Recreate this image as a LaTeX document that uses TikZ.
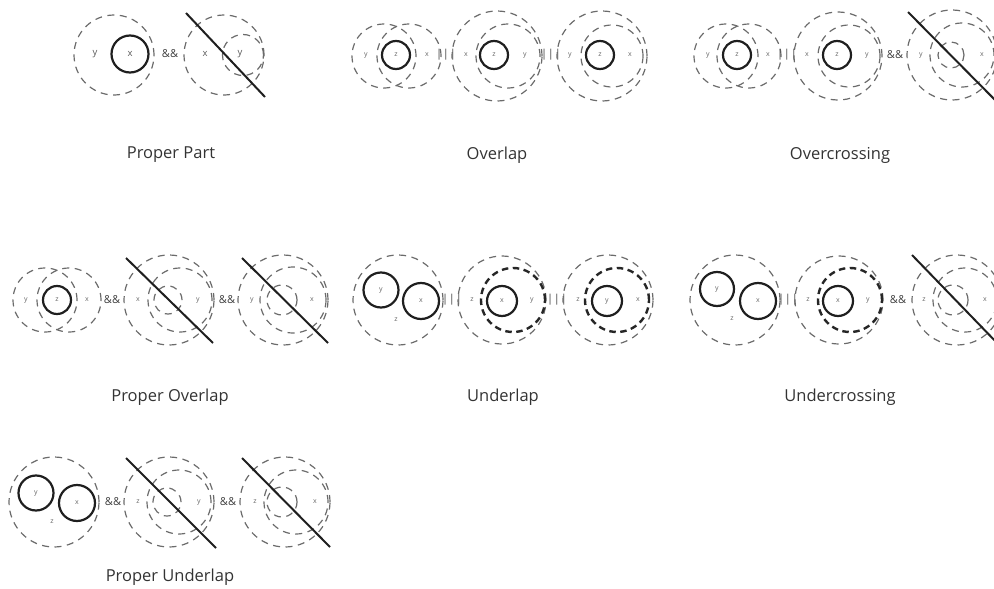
\documentclass[tikz,border=0pt]{standalone}
\usepackage{fontspec}
\setmainfont{Open Sans}

\begin{document}
\begin{tikzpicture}[x=1pt, y=-1pt,
  dcirc/.style={circle, inner sep=0pt, draw=black!58, line width=1.2pt, dash pattern=on 7pt off 5.5pt},
  tcirc/.style={circle, inner sep=0pt, draw=black!85, line width=2.4pt, dash pattern=on 6.5pt off 4.5pt},
  scirc/.style={circle, inner sep=0pt, draw=black!88, line width=2.2pt},
  lbl/.style={inner sep=0pt, text=black!60, font=\fontsize{7}{8}\selectfont},
  lblbig/.style={inner sep=0pt, text=black!65, font=\fontsize{9.5}{10}\selectfont},
  op/.style={inner sep=0pt, text=black!75, font=\fontsize{11}{12}\selectfont},
  ttl/.style={text=black!80, font=\fontsize{16.5}{19}\selectfont},
  slash/.style={line width=2pt, black!88}]
\clip (0,0) rectangle (994,589);

% Proper Part
\node[dcirc, minimum size=80pt] (PP1)  at (114,55) {};
\node[scirc, minimum size=37pt] (PP1x) at (130,54) {};
\node[lblbig] (PP1ly) at (95,54)  {y};
\node[lblbig] (PP1lx) at (130,54) {x};
\node[op]     (PPand) at (170,54) {\&\&};
\node[dcirc, minimum size=80pt] (PP2)  at (224,55) {};
\node[dcirc, minimum size=41pt] (PP2y) at (243,55) {};
\node[lblbig] (PP2lx) at (205,54) {x};
\node[lblbig] (PP2ly) at (240,54) {y};
\draw[slash] (186,13) -- (265,97);
\node[ttl] (PPt) at (171,155) {Proper Part};

% Overlap
\node[dcirc, minimum size=64pt] (OL1y) at (384,56) {};
\node[dcirc, minimum size=64pt] (OL1x) at (409,56) {};
\node[scirc, minimum size=28pt] (OL1z) at (396,55) {};
\node[lbl] (OL1ly) at (366,55) {y};
\node[lbl] (OL1lz) at (396,55) {z};
\node[lbl] (OL1lx) at (427,55) {x};
\node[op]  (OLeq1) at (446,55) {|\kern0.8pt|\kern0.8pt|};
\node[dcirc, minimum size=90pt] (OL2x) at (497,56) {};
\node[dcirc, minimum size=64pt] (OL2y) at (508,56) {};
\node[scirc, minimum size=28pt] (OL2z) at (494,55) {};
\node[lbl] (OL2lx) at (466,55) {x};
\node[lbl] (OL2lz) at (494,55) {z};
\node[lbl] (OL2ly) at (525,55) {y};
\node[op]  (OLeq2) at (551,55) {|\kern0.8pt|\kern0.8pt|};
\node[dcirc, minimum size=90pt] (OL3y) at (602,56) {};
\node[dcirc, minimum size=62pt] (OL3x) at (612,56) {};
\node[scirc, minimum size=28pt] (OL3z) at (600,55) {};
\node[lbl] (OL3ly) at (570,55) {y};
\node[lbl] (OL3lz) at (600,55) {z};
\node[lbl] (OL3lx) at (630,55) {x};
\node[ttl] (OLt) at (497,155) {Overlap};

% Overcrossing
\node[dcirc, minimum size=64pt] (OC1y) at (726,56) {};
\node[dcirc, minimum size=64pt] (OC1x) at (749,56) {};
\node[scirc, minimum size=28pt] (OC1z) at (737,55) {};
\node[lbl] (OC1ly) at (708,55) {y};
\node[lbl] (OC1lz) at (737,55) {z};
\node[lbl] (OC1lx) at (768,55) {x};
\node[op]  (OCeq) at (787,55) {|\kern0.8pt|\kern0.8pt|};
\node[dcirc, minimum size=88pt] (OC2x) at (838,56) {};
\node[dcirc, minimum size=62pt] (OC2y) at (849,56) {};
\node[scirc, minimum size=28pt] (OC2z) at (837,55) {};
\node[lbl] (OC2lx) at (807,55) {x};
\node[lbl] (OC2lz) at (837,55) {z};
\node[lbl] (OC2ly) at (867,55) {y};
\node[op]  (OCand) at (895,55) {\&\&};
\node[dcirc, minimum size=90pt] (OC3y) at (952,55) {};
\node[dcirc, minimum size=64pt] (OC3x) at (962,55) {};
\node[dcirc, minimum size=26pt] (OC3z) at (951,55) {};
\node[lbl] (OC3ly) at (921,55) {y};
\node[lbl] (OC3lx) at (982,55) {x};
\draw[slash] (908,12) -- (1000,105);
\node[ttl] (OCt) at (840,155) {Overcrossing};

% Proper Overlap
\node[dcirc, minimum size=64pt] (PO1y) at (45,300) {};
\node[dcirc, minimum size=64pt] (PO1x) at (69,300) {};
\node[scirc, minimum size=28pt] (PO1z) at (57,300) {};
\node[lbl] (PO1ly) at (26,300) {y};
\node[lbl] (PO1lz) at (57,300) {z};
\node[lbl] (PO1lx) at (87,300) {x};
\node[op]  (POand1) at (112,300) {\&\&};
\node[dcirc, minimum size=90pt] (PO2x) at (169,300) {};
\node[dcirc, minimum size=64pt] (PO2y) at (180,300) {};
\node[dcirc, minimum size=28pt] (PO2z) at (168,300) {};
\node[lbl] (PO2lx) at (138,300) {x};
\node[lbl] (PO2ly) at (198,300) {y};
\draw[slash] (126,258) -- (213,343);
\node[op]  (POand2) at (227,300) {\&\&};
\node[dcirc, minimum size=90pt] (PO3y) at (283,300) {};
\node[dcirc, minimum size=66pt] (PO3x) at (293,300) {};
\node[dcirc, minimum size=30pt] (PO3z) at (282,300) {};
\node[lbl] (PO3ly) at (252,300) {y};
\node[lbl] (PO3lx) at (312,300) {x};
\draw[slash] (242,258) -- (328,343);
\node[ttl] (POt) at (170,397) {Proper Overlap};

% Underlap
\node[dcirc, minimum size=90pt] (UL1z) at (398,300) {};
\node[scirc, minimum size=35pt] (UL1y) at (381,290) {};
\node[scirc, minimum size=36pt] (UL1x) at (421,301) {};
\node[lbl] (UL1ly) at (381,290) {y};
\node[lbl] (UL1lx) at (421,301) {x};
\node[lbl] (UL1lz) at (396,320) {z};
\node[op]  (ULeq1) at (452,300) {|\kern0.8pt|\kern0.8pt|};
\node[dcirc, minimum size=88pt] (UL2z) at (502,300) {};
\node[tcirc, minimum size=64pt] (UL2y) at (513,300) {};
\node[scirc, minimum size=30pt] (UL2x) at (502,301) {};
\node[lbl] (UL2lz) at (472,300) {z};
\node[lbl] (UL2lx) at (502,301) {x};
\node[lbl] (UL2ly) at (532,300) {y};
\node[op]  (ULeq2) at (557,300) {|\kern0.8pt|\kern0.8pt|};
\node[dcirc, minimum size=90pt] (UL3z) at (608,300) {};
\node[tcirc, minimum size=64pt] (UL3x) at (617,300) {};
\node[scirc, minimum size=30pt] (UL3y) at (607,301) {};
\node[lbl] (UL3lz) at (578,300) {z};
\node[lbl] (UL3ly) at (607,301) {y};
\node[lbl] (UL3lx) at (638,300) {x};
\node[ttl] (ULt) at (503,397) {Underlap};

% Undercrossing
\node[dcirc, minimum size=90pt] (UC1z) at (735,300) {};
\node[scirc, minimum size=34pt] (UC1y) at (717,289) {};
\node[scirc, minimum size=36pt] (UC1x) at (758,301) {};
\node[lbl] (UC1ly) at (717,289) {y};
\node[lbl] (UC1lx) at (758,301) {x};
\node[lbl] (UC1lz) at (732,319) {z};
\node[op]  (UCeq) at (788,300) {|\kern0.8pt|\kern0.8pt|};
\node[dcirc, minimum size=88pt] (UC2z) at (839,300) {};
\node[tcirc, minimum size=64pt] (UC2y) at (850,300) {};
\node[scirc, minimum size=30pt] (UC2x) at (838,301) {};
\node[lbl] (UC2lz) at (808,300) {z};
\node[lbl] (UC2lx) at (838,301) {x};
\node[lbl] (UC2ly) at (868,300) {y};
\node[op]  (UCand) at (898,300) {\&\&};
\node[dcirc, minimum size=90pt] (UC3z) at (957,300) {};
\node[dcirc, minimum size=64pt] (UC3x) at (965,300) {};
\node[dcirc, minimum size=30pt] (UC3y) at (953,300) {};
\node[lbl] (UC3lz) at (924,300) {z};
\node[lbl] (UC3lx) at (985,300) {x};
\draw[slash] (912,255) -- (1000,346);
\node[ttl] (UCt) at (840,397) {Undercrossing};

% Proper Underlap
\node[dcirc, minimum size=90pt] (PU1z) at (54,502) {};
\node[scirc, minimum size=35pt] (PU1y) at (36,493) {};
\node[scirc, minimum size=36pt] (PU1x) at (77,503) {};
\node[lbl] (PU1ly) at (36,493) {y};
\node[lbl] (PU1lx) at (77,503) {x};
\node[lbl] (PU1lz) at (52,522) {z};
\node[op]  (PUand1) at (113,502) {\&\&};
\node[dcirc, minimum size=90pt] (PU2z) at (169,502) {};
\node[dcirc, minimum size=64pt] (PU2y) at (179,502) {};
\node[dcirc, minimum size=28pt] (PU2x) at (167,502) {};
\node[lbl] (PU2lz) at (138,502) {z};
\node[lbl] (PU2ly) at (199,502) {y};
\draw[slash] (126,458) -- (216,548);
\node[op]  (PUand2) at (228,502) {\&\&};
\node[dcirc, minimum size=90pt] (PU3z) at (285,502) {};
\node[dcirc, minimum size=64pt] (PU3x) at (296,502) {};
\node[dcirc, minimum size=30pt] (PU3y) at (282,502) {};
\node[lbl] (PU3lz) at (255,502) {z};
\node[lbl] (PU3lx) at (315,502) {x};
\draw[slash] (242,458) -- (330,547);
\node[ttl] (PUt) at (170,577) {Proper Underlap};
\end{tikzpicture}
\end{document}
